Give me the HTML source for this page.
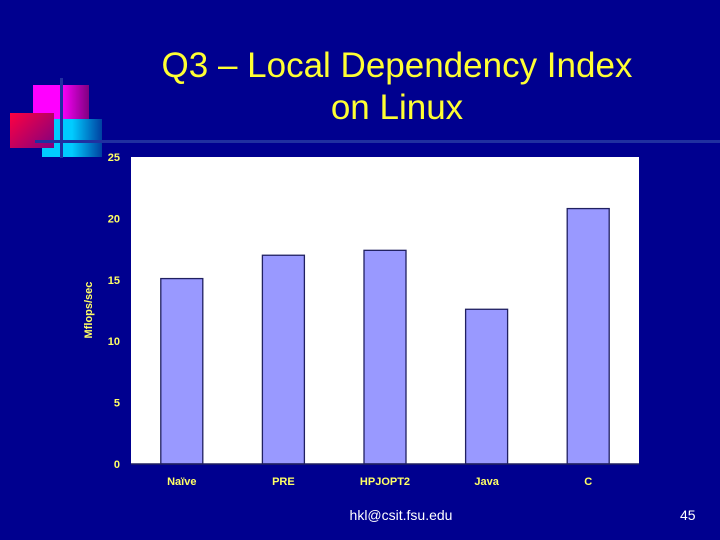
<!DOCTYPE html>
<html><head><meta charset="utf-8"><style>
body{margin:0;width:720px;height:540px;background:#00008f;overflow:hidden;font-family:"Liberation Sans",sans-serif;position:relative}
.t{position:absolute;color:#ffff33;font-size:35px;text-align:center;width:720px;left:37px;line-height:42px}
</style></head><body>
<div>
<div style="position:absolute;left:33px;top:85px;width:56px;height:34px;background:linear-gradient(90deg,#ff00ff 50%,#800080)"></div>
<div style="position:absolute;left:42px;top:119px;width:60px;height:38px;background:linear-gradient(90deg,#00ccff 50%,#0040a0)"></div>
<div style="position:absolute;left:10px;top:113px;width:44px;height:35px;background:linear-gradient(135deg,#ff0040,#800080)"></div>
<div style="position:absolute;left:60px;top:78px;width:3px;height:80px;background:#2030a0"></div>
</div>
<div style="position:absolute;left:35px;top:140px;width:685px;height:3px;background:#2030a0"></div>
<div class="t" style="top:45px;width:720px;left:37px">Q3 – Local Dependency Index<br>on Linux</div>
<svg id="c" width="720" height="540" style="position:absolute;left:0;top:0"></svg>
<div style="position:absolute;left:301px;width:200px;text-align:center;top:507px;color:#fff;font-size:14px">hkl@csit.fsu.edu</div>
<div style="position:absolute;left:680px;top:507px;color:#fff;font-size:14px">45</div>
<script>
const categories=["Naïve","PRE","HPJOPT2","Java","C"];
const values=[15.1,17.0,17.4,12.6,20.8];
const ticks=[0,5,10,15,20,25];
const ns="http://www.w3.org/2000/svg",svg=document.getElementById('c');
const X0=131,X1=639,Y0=464,Y1=157,MAX=25;
const y=v=>Y0-(v/MAX)*(Y0-Y1);
const bw=(X1-X0)/categories.length;
const x=i=>X0+bw*(i+0.5);
function mk(t,a,txt){const e=document.createElementNS(ns,t);for(const k in a)e.setAttribute(k,a[k]);if(txt!=null)e.textContent=txt;svg.appendChild(e);return e;}
const bg=mk('rect',{x:X0,y:Y1,width:X1-X0,height:Y0-Y1,fill:'#fff'});


ticks.forEach(t=>{const e=mk('text',{x:120,y:y(t)+4,'text-anchor':'end',fill:'#ffff66','font-size':11,'font-weight':'bold'},t);

});
values.forEach((v,i)=>{const r=mk('rect',{x:x(i)-21,y:y(v),width:42,height:Y0-y(v),fill:'#9999ff',stroke:'#202060','stroke-width':1.3});


const l=mk('text',{x:x(i),y:485,'text-anchor':'middle',fill:'#ffff66','font-size':11,'font-weight':'bold'},categories[i]);

});
const ax=mk('line',{x1:X0,x2:X1,y1:Y0,y2:Y0,stroke:'#202060','stroke-width':1.5});


const yt=mk('text',{x:92,y:310,'text-anchor':'middle',fill:'#ffff66','font-size':11,'font-weight':'bold',transform:'rotate(-90 92 310)'},'Mflops/sec');


</script>
</body></html>
